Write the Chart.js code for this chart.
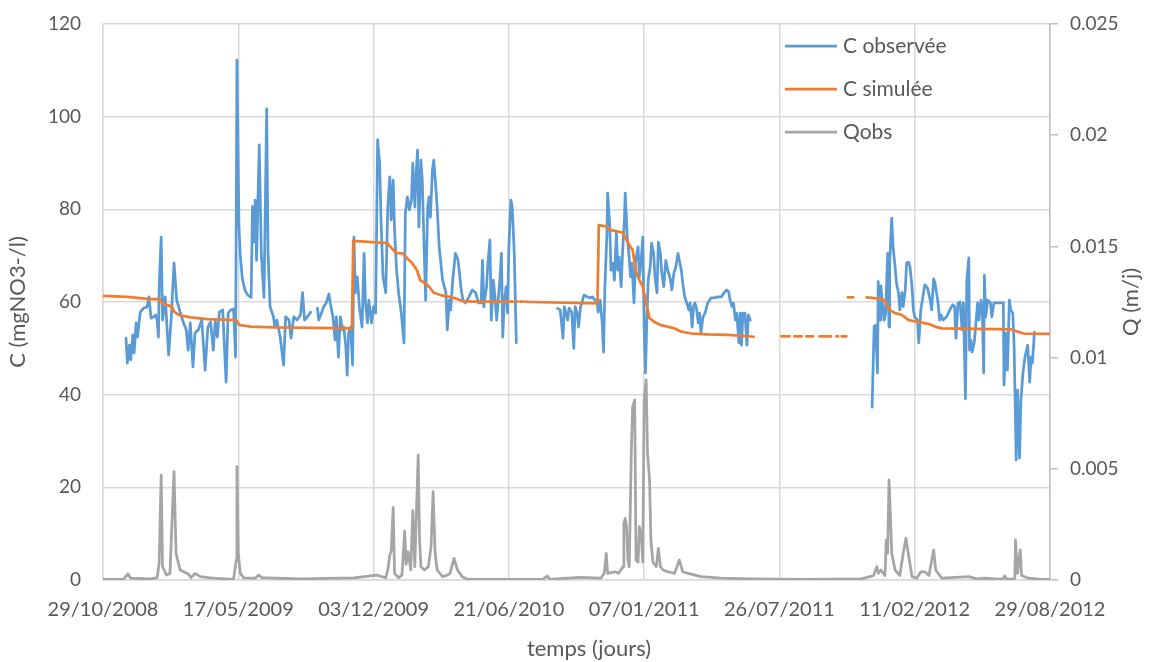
<!DOCTYPE html>
<html><head><meta charset="utf-8">
<script src="https://cdn.jsdelivr.net/npm/chart.js@4.4.1/dist/chart.umd.min.js"></script>
<style>html,body{margin:0;padding:0;background:#fff}</style>
</head><body>
<canvas id="c" width="1167" height="662"></canvas>
<script>
// Tick labels (x axis in days from 29/10/2008, every 200 days)
const xTickLabels = ["29/10/2008","17/05/2009","03/12/2009","21/06/2010","07/01/2011","26/07/2011","11/02/2012","29/08/2012"];
const seriesNames = ["C observée","C simulée","Qobs"];
const xTitle = "temps (jours)";
const yTitle = "C (mgNO3-/l)";
const y2Title = "Q (m/j)";

// C observée : days, values (null = gap)
const obsDays = [34,36,39,41,44,46,49,51,55,60,65,68,71,75,78,80,82,83,86,88,92,97,101,105,109,114,119,123,126,129,133,136,141,146,151,155,159,163,166,169,172,177,182,185,189,193,196,198,201,203,206,210,214,219,221,223,225,227,231,234,238,242,244,247,252,254,257,262,267,270,275,278,282,287,292,295,298,302,307,312,317,319,323,326,330,334,336,340,343,345,348,351,354,356,359,361,363,366,369,371,373,376,379,383,386,388,391,393,397,400,403,406,409,411,414,418,421,424,426,429,431,434,437,441,445,447,450,453,456,458,461,463,465,467,470,472,475,477,480,482,484,487,489,492,494,497,502,507,509,512,514,517,519,521,525,529,532,536,541,546,551,555,559,561,563,567,569,572,574,577,579,582,584,587,589,591,593,596,598,600,603,605,608,611,640,
672,676,680,682,684,687,689,693,696,698,701,703,706,708,711,716,720,724,727,730,732,735,738,740,742,745,746,749,751,754,756,759,761,763,766,768,771,772,775,777,780,782,785,787,791,793,796,798,800,802,804,806,809,811,814,816,819,821,824,826,829,832,835,839,841,844,847,850,852,855,857,860,863,866,868,871,873,875,877,880,882,884,887,890,894,899,904,909,914,918,922,925,927,930,932,935,937,940,942,944,946,949,952,954,957,1000,
1137,1140,1142,1145,1146,1149,1150,1152,1155,1157,1160,1162,1163,1166,1168,1171,1173,1176,1178,1181,1183,1186,1188,1191,1193,1196,1198,1200,1204,1206,1209,1212,1215,1219,1223,1225,1228,1230,1234,1237,1239,1242,1247,1252,1256,1259,1261,1264,1267,1270,1272,1275,1277,1280,1281,1283,1285,1288,1290,1293,1295,1298,1300,1302,1303,1305,1308,1312,1314,1317,1324,1331,1332,1335,1337,1340,1342,1345,1347,1350,1352,1355,1357,1360,1363,1367,1370,1372,1374,1377];
const obsC = [52.2,46.8,50.7,47.5,52.9,49,55.5,52.4,57.8,58.7,58.9,61.1,56.5,56.8,57.2,56.1,52.4,63.2,74,56.1,61.1,48.6,56.8,68.4,60.4,57.8,55.5,54,49.6,55.5,46,53.3,54,56.1,45.3,54.6,55.7,49.6,56.1,52.4,57.8,58.3,42.7,57.6,58.3,58.5,48.1,112.2,76.3,70,65,62.5,61.5,61,80.6,73,82,69,93.9,70.5,61,101.7,70.5,59,56.8,54.6,56.1,52.4,46.4,56.8,56.1,52.2,56.8,56.1,57.2,62,56.1,56.8,57.8,null,58.7,56.1,57.6,58.9,59.8,61.7,59.8,56.8,51.8,56.8,48.1,56.8,54,54.6,50.3,44.2,53.3,54.6,46.4,74,62,65.4,59,54.6,70.5,59.8,55.5,60.4,55.5,59,57.6,95,90,77.7,65.4,62,80.5,87,77.7,86.3,75.5,66.9,62,57.6,51.2,79.2,82.7,79.9,82,90,80.5,87.8,92.8,76.2,90.6,86.3,70.5,60.4,80.5,82.7,78.3,88.5,90.6,84.8,80.5,71.9,64.7,62,54,60.4,58.3,64.7,67.6,70.5,69,63.3,60.4,59.8,61.1,62.6,62,59.8,59.8,69,59,63.3,68.4,73.4,56.1,64.7,62,56.1,59.8,65.4,70.5,52.4,59.8,63.3,57.6,71.9,82,80.5,70.5,51.2,null,
58.6,58.3,52.2,59,57.8,56.1,58.7,57.8,50,59,57.6,54.6,59,59.8,61.5,61.1,60.9,61.1,60.4,60.4,57.8,60.4,55.5,49.2,63.3,74.9,83.5,77,66.9,68.4,64.7,74.9,66.9,69.7,63.3,70.5,78.3,83.5,74,71.2,65.4,68.4,59.8,68.4,71.9,65.4,69.7,74,54.6,44.7,56.1,64.7,67.6,72.7,70.5,65.4,62,72.9,70.5,66.3,63.3,69,66.9,64.7,62.6,66.3,67.6,70.5,69,66.9,64.1,61.1,59.8,58.3,59.8,54.6,59,59.8,59,55.5,57.6,53.3,56.8,57.6,59.8,60.9,60.9,61.1,61.1,62,62.6,62.2,60.4,59,59.8,56.1,57.6,51.2,57.6,50.7,57.6,57.6,50.7,57.2,56.1,null,
37.3,54.7,55,44.7,64.4,56.1,63.5,60.4,56.1,57.6,70.5,54.6,68.4,78.1,71.9,67.6,64.1,62,58.3,62,59,62.6,68.4,68.6,67.6,63.3,58.3,56.8,56.1,51.2,58.3,61.1,63.7,63,60.4,58.3,65,64.1,60.4,56.1,57.2,56.1,56.8,58.3,59.4,59,52.2,59.8,60,54,59.8,39.1,64.7,69.5,49.6,51.8,49.2,51.2,54.6,59.8,56.1,60.4,57.6,44.7,65.8,56.8,60.4,59.8,56.8,59.8,59.8,59.8,42.1,53.3,45.3,60.4,58.3,57.6,50.3,25.9,41,26.3,38.8,44.7,48.1,50.7,42.7,48.1,46.8,53.5];

// C simulée : days, values (null = gap)
const simDays = [0,35,70,83,89,102,105,112,129,154,197,202,218,252,363,368,370,420,425,433,443,450,457,464,469,477,482,489,499,512,521,531,549,603,606,608,610,613,614,617,621,622,625,629,630,632,731,733,744,751,768,773,778,783,788,793,798,803,808,815,825,845,855,870,894,924,962,980,
1003,1015,1018,1022,1033,1036,1040,1050,1054,1059,1062,1063,1064,1076,1080,1084,1087,1089,1092,1099,1100,1101,1109,1115,1129,1144,1156,1163,1171,1181,1191,1205,1220,1230,1240,1289,1344,1352,1361,1388,1400];
const simC = [61.3,61.1,60.6,60.6,59.6,59,57.9,57.2,56.7,56.3,56.1,55,54.7,54.5,54.3,54.3,73.2,72.7,71.9,70.6,70.5,69.4,68.4,66.9,64.7,64,63.3,62,61.5,61.1,60.8,60.2,60.1,60.1,60.1,null,60.1,60.1,null,60.1,60.1,null,60.1,60,null,60,59.7,76.6,76.3,75.5,75,73.7,72.3,71.2,66.5,64.7,63.3,59.7,56.5,55.7,55,54.3,53.6,53.2,53,52.9,52.5,null,
52.6,52.6,null,52.6,52.6,null,52.6,52.6,null,52.6,52.6,null,52.6,52.6,null,52.6,52.6,null,52.6,52.6,null,61,61,null,61,60.8,60.3,58.3,57.6,57.2,56.1,55.7,55.3,54.7,54.3,54.2,54.1,53.6,53.2,53.1,53.1];

// Qobs : days, values (m/j)
const qDays = [0,30,37,41,70,80,83,86,88,94,99,105,108,114,126,130,136,144,159,190,193,197,198,200,203,208,225,230,235,243,292,371,405,418,421,424,426,429,431,437,442,446,448,451,455,458,461,463,466,468,470,475,481,485,488,491,494,502,509,513,519,524,531,539,650,657,660,704,736,741,744,746,757,762,769,770,772,774,776,778,781,783,786,788,791,793,796,798,800,803,805,808,810,813,818,821,824,828,835,845,852,857,865,884,914,958,1033,1121,1139,1144,1146,1150,1156,1158,1160,1162,1164,1166,1171,1178,1183,1187,1191,1196,1203,1209,1215,1221,1228,1231,1240,1280,1292,1302,1330,1333,1336,1346,1348,1349,1352,1356,1358,1368,1388,1400];
const qVals = [0.00003,0.00003,0.00027,0.00008,0.00005,0.0001,0.00075,0.00472,0.0006,0.00022,0.0003,0.00487,0.0012,0.00045,0.00027,0.0001,0.0003,0.00015,0.0001,0.00003,0.00003,0.0009,0.0051,0.0012,0.0003,0.0001,0.00008,0.00022,0.0001,0.0001,0.00005,0.0001,0.00022,0.0001,0.00045,0.00112,0.0013,0.00327,0.0003,0.0001,0.00022,0.0022,0.0007,0.00127,0.00045,0.00312,0.0006,0.0027,0.00562,0.0018,0.0006,0.00045,0.0006,0.0015,0.00397,0.0012,0.00045,0.00015,0.00022,0.0003,0.00097,0.00045,0.00015,0.00003,0.00003,0.00018,0.00003,0.00012,0.00008,0.0003,0.0012,0.0003,0.00037,0.0003,0.0006,0.00255,0.00277,0.0024,0.0009,0.0006,0.0057,0.0078,0.0081,0.0009,0.0008,0.0024,0.0019,0.0008,0.0081,0.009,0.0057,0.0045,0.0018,0.0008,0.0006,0.00142,0.0006,0.00045,0.00037,0.0003,0.0009,0.00037,0.0003,0.00015,0.00008,0.00005,0.00003,0.00005,0.0002,0.0006,0.0003,0.00045,0.0002,0.0018,0.0012,0.0045,0.003,0.0012,0.00045,0.0002,0.0012,0.00187,0.0011,0.00015,0.00008,0.00037,0.00037,0.0002,0.00135,0.00045,0.00008,0.00015,0.00005,0.00008,0.00003,0.00018,0.00004,0.00004,0.00008,0.0018,0.0003,0.00135,0.0002,0.00008,0.00003,0.00003];

const toPts = (xs, ys) => xs.map((d, i) => ({x: d, y: ys[i]}));
const colors = ["#5B9BD5", "#ED7D31", "#A5A5A5"];
const txt = "#595959";
const FONT = "Lato";

const overlay = {
  id: 'overlay',
  afterDraw(chart) {
    const ctx = chart.ctx, a = chart.chartArea;
    ctx.save();
    // legend inside plot area
    ctx.font = "21px " + FONT;
    ctx.textBaseline = "middle";
    ctx.textAlign = "left";
    const rows = [46, 89, 132];
    chart.data.datasets.forEach((ds, i) => {
      const y = rows[i];
      ctx.strokeStyle = ds.borderColor;
      ctx.lineWidth = 2.75;
      ctx.beginPath(); ctx.moveTo(785, y); ctx.lineTo(837, y); ctx.stroke();
      ctx.fillStyle = txt;
      ctx.fillText(ds.label, 843, y);
    });
    // x axis title
    ctx.textAlign = "center";
    ctx.font = "22px " + FONT;
    ctx.fillText(xTitle, 589, 649);
    // right axis title, reading bottom to top
    ctx.translate(1131, (a.top + a.bottom) / 2);
    ctx.rotate(-Math.PI / 2);
    ctx.fillText(y2Title, 0, 0);
    ctx.restore();
  }
};

new Chart(document.getElementById('c'), {
  type: 'line',
  data: {
    datasets: [
      {label: seriesNames[0], data: toPts(obsDays, obsC), borderColor: colors[0], yAxisID: 'y', order: 3},
      {label: seriesNames[1], data: toPts(simDays, simC), borderColor: colors[1], yAxisID: 'y', order: 2},
      {label: seriesNames[2], data: toPts(qDays, qVals), borderColor: colors[2], yAxisID: 'y1', order: 1}
    ]
  },
  options: {
    responsive: false,
    animation: false,
    spanGaps: false,
    elements: {point: {radius: 0}, line: {borderWidth: 2.75, tension: 0, borderJoinStyle: 'round', borderCapStyle: 'round'}},
    layout: {padding: {top: 24, left: 0, right: 0, bottom: 0}},
    plugins: {legend: {display: false}, tooltip: {enabled: false}},
    scales: {
      x: {
        type: 'linear', min: 0, max: 1400,
        afterFit(s) { s.height = 82; },
        ticks: {stepSize: 200, autoSkip: false, maxRotation: 0, padding: 18, color: txt, font: {family: FONT, size: 20},
          callback: (v) => xTickLabels[Math.round(v / 200)]},
        grid: {color: '#d9d9d9', lineWidth: 1.5, drawTicks: false},
        border: {color: '#d9d9d9', width: 1.5}
      },
      y: {
        position: 'left', min: 0, max: 120,
        afterFit(s) { s.width = 103; },
        ticks: {stepSize: 20, padding: 12, color: txt, font: {family: FONT, size: 19}},
        grid: {color: '#d9d9d9', lineWidth: 1.5, drawTicks: true, tickLength: 10, tickColor: 'rgba(0,0,0,0)'},
        border: {color: '#d9d9d9', width: 1.5},
        title: {display: true, text: yTitle, color: txt, font: {family: FONT, size: 22}, padding: {top: 5, bottom: 0}}
      },
      y1: {
        position: 'right', min: 0, max: 0.025,
        afterFit(s) { s.width = 117; },
        ticks: {stepSize: 0.005, padding: 12, color: txt, font: {family: FONT, size: 19},
          callback: (v) => String(parseFloat(v.toFixed(3)))},
        grid: {drawOnChartArea: false, drawTicks: true, tickLength: 8, color: '#bfbfbf', lineWidth: 1.5},
        border: {color: '#bfbfbf', width: 1.5}
      }
    }
  },
  plugins: [overlay]
});
</script>
</body></html>
